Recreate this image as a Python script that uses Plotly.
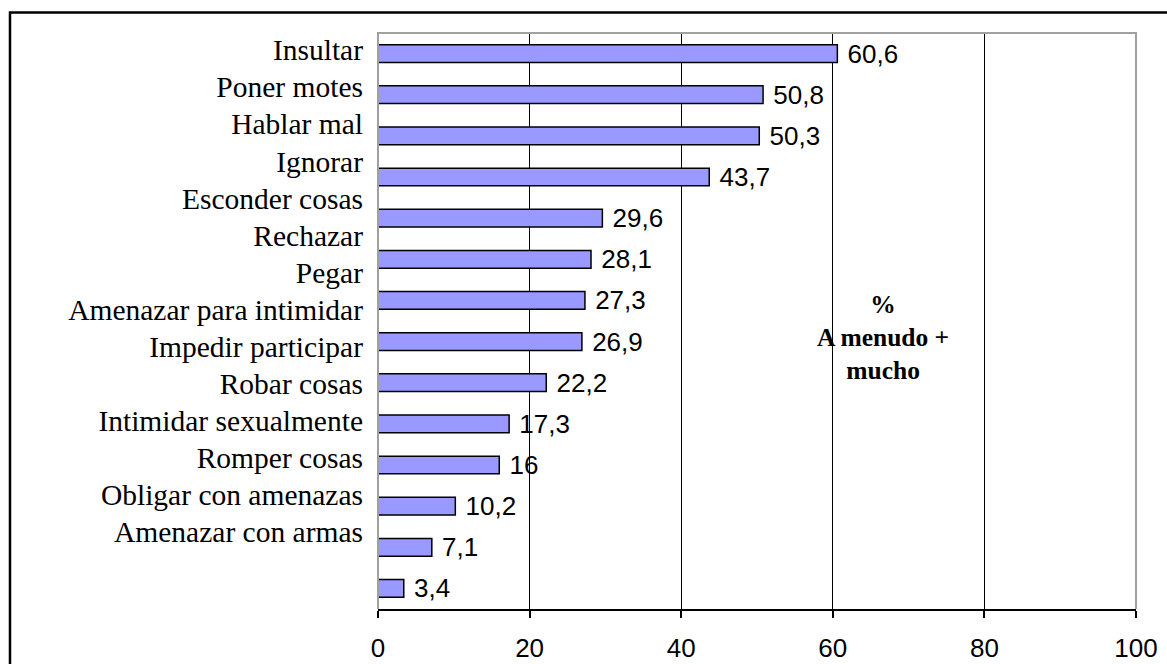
import plotly.graph_objects as go

categories = ["Insultar", "Poner motes", "Hablar mal", "Ignorar", "Esconder cosas",
              "Rechazar", "Pegar", "Amenazar para intimidar", "Impedir participar",
              "Robar cosas", "Intimidar sexualmente", "Romper cosas",
              "Obligar con amenazas", "Amenazar con armas"]
values = [60.6, 50.8, 50.3, 43.7, 29.6, 28.1, 27.3, 26.9, 22.2, 17.3, 16, 10.2, 7.1, 3.4]
x_ticks = [0, 20, 40, 60, 80, 100]
note_lines = ["%", "A menudo +", "mucho"]

def fmt(v):
    return ("%g" % v).replace(".", ",")

serif = "Liberation Serif, Times New Roman, serif"
sans = "Liberation Sans, Arial, sans-serif"

fig = go.Figure()
fig.add_trace(go.Bar(
    x=values, y=categories, orientation="h",
    marker=dict(color="#9999ff", line=dict(color="black", width=1.5)),
    width=0.43,
    text=["\u00a0" + fmt(v) for v in values],
    textposition="outside", constraintext="none", cliponaxis=False,
    textfont=dict(family=sans, size=26, color="black"),
    hoverinfo="skip", showlegend=False,
))
# invisible trace carrying the label axis
fig.add_trace(go.Scatter(
    x=values, y=list(range(len(categories))), yaxis="y2",
    mode="markers", marker=dict(opacity=0), hoverinfo="skip", showlegend=False,
))

fig.update_layout(
    width=1167, height=664,
    margin=dict(l=378, r=31, t=33, b=55, autoexpand=False),
    paper_bgcolor="white", plot_bgcolor="white",
    xaxis=dict(range=[0, 100], tickvals=x_ticks, showgrid=True, gridcolor="black",
               gridwidth=1, zeroline=False, showline=True, linecolor="black",
               linewidth=2, ticks="outside", ticklen=7, tickwidth=2,
               tickcolor="black", ticklabelstandoff=8, automargin=False,
               tickfont=dict(family=sans, size=26, color="black")),
    yaxis=dict(autorange="reversed", showticklabels=False, showgrid=False,
               zeroline=False, showline=False, ticks="", automargin=False),
    yaxis2=dict(overlaying="y", side="left", range=[15.077, -0.4585],
                tickvals=list(range(len(categories))), ticktext=categories,
                showgrid=False, zeroline=False, showline=False, ticks="",
                ticklabelstandoff=14, automargin=False,
                tickfont=dict(family=serif, size=29.5, color="black")),
    shapes=[
        dict(type="path", xref="paper", yref="paper",
             path="M0,0 L0,1 L1,1 L1,0", line=dict(color="#a0a0a0", width=2),
             layer="above"),
        dict(type="path", xref="paper", yref="paper",
             path="M-0.4855,-0.1 L-0.4855,1.0356 L1.05,1.0356",
             line=dict(color="black", width=2.5), layer="above"),
    ],
    annotations=[dict(x=66.6, y=0.471, xref="x", yref="paper",
                      text="<br>".join("<b>" + s + "</b>" for s in note_lines),
                      showarrow=False, align="center",
                      font=dict(family=serif, size=25.5, color="black"))],
)

fig.write_html("out.html", config={"displayModeBar": False},
               post_script="document.body.style.margin='0';")
